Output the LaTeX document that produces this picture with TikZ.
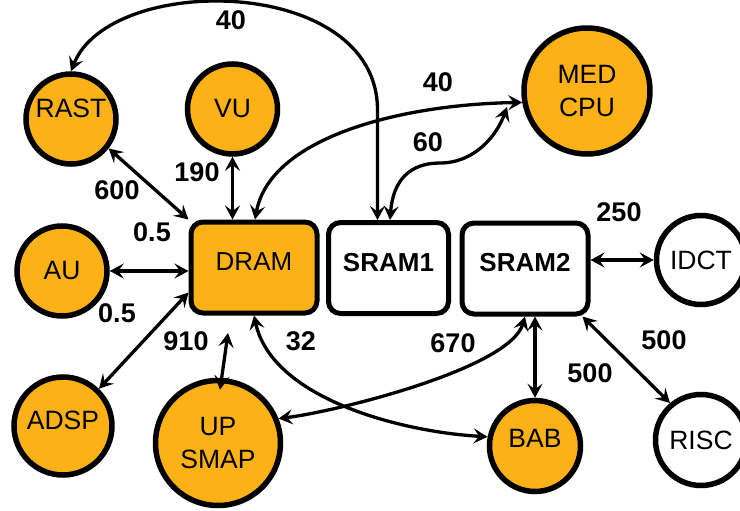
\documentclass[tikz,border=0pt]{standalone}
\usepackage{fontspec}
\setmainfont{Liberation Sans}
\usetikzlibrary{arrows.meta}
\definecolor{unitfill}{RGB}{252,178,22}
\tikzset{
  x=1pt, y=1pt,
  unit/.style={circle, draw=black, line width=5.5pt, fill=unitfill, inner sep=0pt,
    font=\fontsize{26.5}{33}\selectfont, align=center},
  plainunit/.style={unit, fill=white},
  membox/.style={rectangle, rounded corners=12pt, draw=black, line width=5pt,
    minimum width=125pt, minimum height=91pt, inner sep=0pt, text depth=12pt,
    font=\bfseries\fontsize{26}{30}\selectfont},
  link/.style={line width=3.3pt, {Stealth[length=14pt,width=15pt,inset=5.5pt]}-{Stealth[length=14pt,width=15pt,inset=5.5pt]}},
  rate/.style={font=\bfseries\fontsize{27}{30}\selectfont, inner sep=0pt}
}
\begin{document}
\begin{tikzpicture}
\useasboundingbox (0,0) rectangle (740,-511);

% memories
\node[membox, fill=unitfill, font=\fontsize{26}{30}\selectfont, minimum width=126pt] (dram) at (254,-267.5) {DRAM};
\node[membox, fill=white, minimum width=120pt] (sram1) at (388.5,-268) {SRAM1};
\node[membox, fill=white, minimum width=126pt] (sram2) at (525,-268.5) {SRAM2};

% processing units
\node[unit, minimum size=90pt, text depth=22pt] (rast) at (71,-119) {RAST};
\node[unit, minimum size=90pt] (vu) at (232.5,-109) {VU};
\node[unit, minimum size=126pt] (medcpu) at (587,-91) {MED\\CPU};
\node[unit, minimum size=90pt] (au) at (62,-271) {AU};
\node[unit, minimum size=98pt, text depth=12pt] (adsp) at (63,-426) {ADSP};
\node[unit, minimum size=125pt] (upsmap) at (218,-443) {UP\\SMAP};
\node[unit, minimum size=91pt, text depth=16pt] (bab) at (535,-446) {BAB};
\node[plainunit, minimum size=89pt] (idct) at (701,-260) {IDCT};
\node[plainunit, minimum size=91pt] (risc) at (701,-440) {RISC};

% free ends of the short links
\coordinate (cpuin) at (507,-107);
\coordinate (dramin) at (228,-333);

% links
\draw[link] ([xshift=-11pt]sram1.north) -- ++(0,110)
  .. controls +(0,135) and +(39,99) .. (rast.north);
\draw[link] ([xshift=1pt]dram.north) .. controls +(15,82) and +(-122,-2) .. (medcpu.190);
\draw[link] ([xshift=1.5pt]sram1.north) .. controls +(3,40) and +(-30,0) .. (440,-163)
  .. controls +(35,0) and +(-10,-28) .. (cpuin);
\draw[link] (rast.-38) -- (dram.north west);
\draw[link] (vu.south) -- (vu.south |- dram.north);
\draw[link] (au.east) -- (au.east -| dram.west);
\draw[link] ([yshift=-25pt]dram.west) -- (adsp.46);
\draw[link] ([shift={(2,-12)}]upsmap.north) -- (dramin);
\draw[link] (dram.south) .. controls +(18,-83) and +(-87,5) .. (bab.169);
\draw[link] (upsmap.22) .. controls +(58,7) and +(-15,-52) .. (sram2.south);
\draw[link] (bab.north) -- (bab.north |- sram2.south);
\draw[link] ([xshift=-8pt]sram2.south east) -- (risc.130);
\draw[link] (idct.west -| sram2.east) -- (idct.west);

% transfer rates
\node[rate] (r1) at (231,-20) {40};
\node[rate] (r2) at (438,-82) {40};
\node[rate] (r3) at (428,-142) {60};
\node[rate] (r4) at (619,-212) {250};
\node[rate] (r5) at (117,-190) {600};
\node[rate] (r6) at (197,-172) {190};
\node[rate] (r7) at (152,-232) {0.5};
\node[rate] (r8) at (117,-313) {0.5};
\node[rate] (r9) at (186,-341) {910};
\node[rate] (r10) at (301,-341) {32};
\node[rate] (r11) at (453,-343) {670};
\node[rate] (r12) at (590,-373) {500};
\node[rate] (r13) at (664,-340) {500};
\end{tikzpicture}
\end{document}
